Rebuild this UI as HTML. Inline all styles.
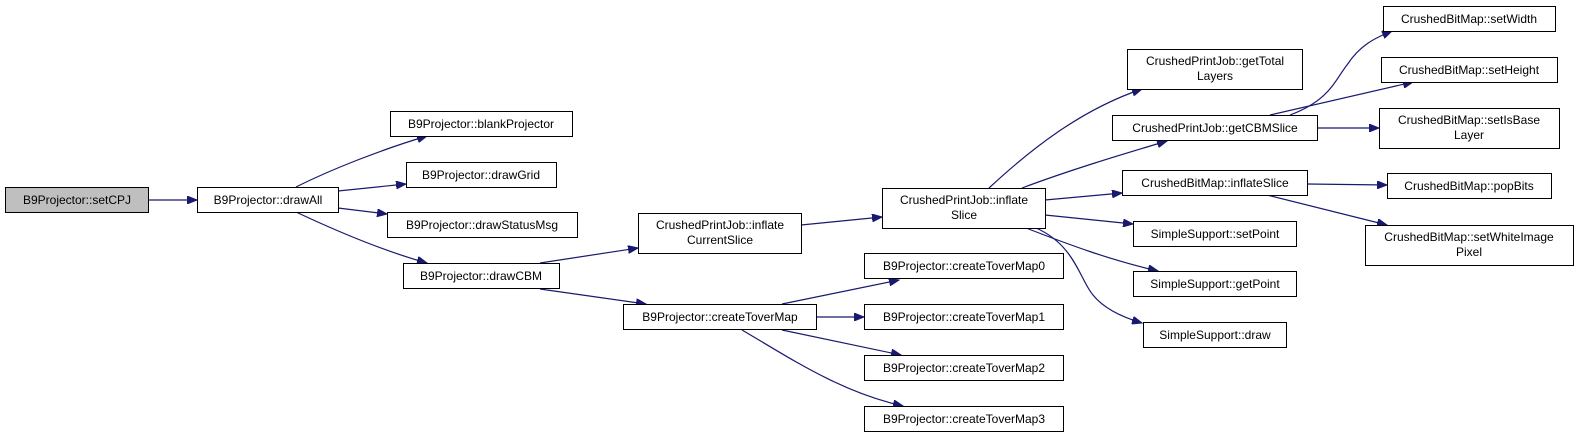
<!DOCTYPE html>
<html><head><meta charset="utf-8"><style>
html,body{margin:0;padding:0;background:#fff;}
svg{display:block;}
text{font-family:"Liberation Sans",Helvetica,Arial,sans-serif;font-size:12px;fill:#000;}
rect{fill:#fff;stroke:#000;stroke-width:1;}
path{fill:none;stroke:#191970;stroke-width:1.2;}
</style></head><body>
<svg width="1579" height="437" viewBox="0 0 1579 437" xmlns="http://www.w3.org/2000/svg">
<defs>
<marker id="a" markerWidth="11" markerHeight="8" refX="10" refY="4" orient="auto" markerUnits="userSpaceOnUse">
<polygon points="0,0 10,4 0,8" fill="#191970" stroke="#191970"/>
</marker>
</defs>
<g marker-end="url(#a)">
<path d="M148,200 L197,200"/>
<path d="M296,187 C330,170 380,150 427,136"/>
<path d="M338,191 L406,184"/>
<path d="M338,208 L387,214"/>
<path d="M296,212 C330,228 380,250 427,263"/>
<path d="M540,263 L638,248"/>
<path d="M540,289 L646,304"/>
<path d="M801,225 L882,217"/>
<path d="M782,304 L899,280"/>
<path d="M816,317 L864,317"/>
<path d="M782,330 L901,355"/>
<path d="M742,330 C790,358 840,392 903,406"/>
<path d="M989,188 C1030,150 1080,110 1142,89"/>
<path d="M1022,188 C1070,170 1120,155 1167,141"/>
<path d="M1045,200 L1122,193"/>
<path d="M1045,215 L1133,224"/>
<path d="M1026,228 C1070,245 1110,260 1158,271"/>
<path d="M1036,228 C1075,245 1080,280 1093,295 C1105,310 1125,318 1142,323"/>
<path d="M1290,115 C1330,100 1335,80 1347,65 C1360,45 1375,38 1392,31"/>
<path d="M1270,115 L1413,82"/>
<path d="M1317,128 L1379,128"/>
<path d="M1307,184 L1387,185"/>
<path d="M1267,195 L1387,225"/>
</g>
<g text-anchor="middle">
<rect x="5.5" y="187.5" width="143" height="25" style="fill:#bfbfbf"/><text x="77" y="204">B9Projector::setCPJ</text>
<rect x="197.5" y="187.5" width="141" height="25"/><text x="268" y="204">B9Projector::drawAll</text>
<rect x="390.5" y="111.5" width="182" height="25"/><text x="481" y="128">B9Projector::blankProjector</text>
<rect x="406.5" y="162.5" width="150" height="25"/><text x="481" y="179">B9Projector::drawGrid</text>
<rect x="387.5" y="212.5" width="190" height="25"/><text x="482" y="229">B9Projector::drawStatusMsg</text>
<rect x="403.5" y="263.5" width="156" height="25"/><text x="481" y="280">B9Projector::drawCBM</text>
<rect x="638.5" y="213.5" width="163" height="40"/><text x="720" y="229">CrushedPrintJob::inflate</text><text x="720" y="244">CurrentSlice</text>
<rect x="623.5" y="304.5" width="193" height="25"/><text x="720" y="321">B9Projector::createToverMap</text>
<rect x="882.5" y="188.5" width="163" height="40"/><text x="964" y="204">CrushedPrintJob::inflate</text><text x="964" y="219">Slice</text>
<rect x="864.5" y="253.5" width="199" height="25"/><text x="964" y="270">B9Projector::createToverMap0</text>
<rect x="864.5" y="304.5" width="199" height="25"/><text x="964" y="321">B9Projector::createToverMap1</text>
<rect x="864.5" y="355.5" width="199" height="25"/><text x="964" y="372">B9Projector::createToverMap2</text>
<rect x="864.5" y="406.5" width="199" height="25"/><text x="964" y="423">B9Projector::createToverMap3</text>
<rect x="1127.5" y="49.5" width="175" height="40"/><text x="1215" y="65">CrushedPrintJob::getTotal</text><text x="1215" y="80">Layers</text>
<rect x="1112.5" y="115.5" width="205" height="25"/><text x="1215" y="132">CrushedPrintJob::getCBMSlice</text>
<rect x="1122.5" y="170.5" width="185" height="25"/><text x="1215" y="187">CrushedBitMap::inflateSlice</text>
<rect x="1133.5" y="221.5" width="163" height="25"/><text x="1215" y="238">SimpleSupport::setPoint</text>
<rect x="1133.5" y="271.5" width="163" height="25"/><text x="1215" y="288">SimpleSupport::getPoint</text>
<rect x="1143.5" y="322.5" width="143" height="25"/><text x="1215" y="339">SimpleSupport::draw</text>
<rect x="1383.5" y="6.5" width="172" height="25"/><text x="1469" y="23">CrushedBitMap::setWidth</text>
<rect x="1381.5" y="57.5" width="176" height="25"/><text x="1469" y="74">CrushedBitMap::setHeight</text>
<rect x="1379.5" y="108.5" width="180" height="40"/><text x="1469" y="124">CrushedBitMap::setIsBase</text><text x="1469" y="139">Layer</text>
<rect x="1387.5" y="173.5" width="164" height="25"/><text x="1469" y="190">CrushedBitMap::popBits</text>
<rect x="1365.5" y="225.5" width="208" height="40"/><text x="1469" y="241">CrushedBitMap::setWhiteImage</text><text x="1469" y="256">Pixel</text>
</g>
</svg>
</body></html>
